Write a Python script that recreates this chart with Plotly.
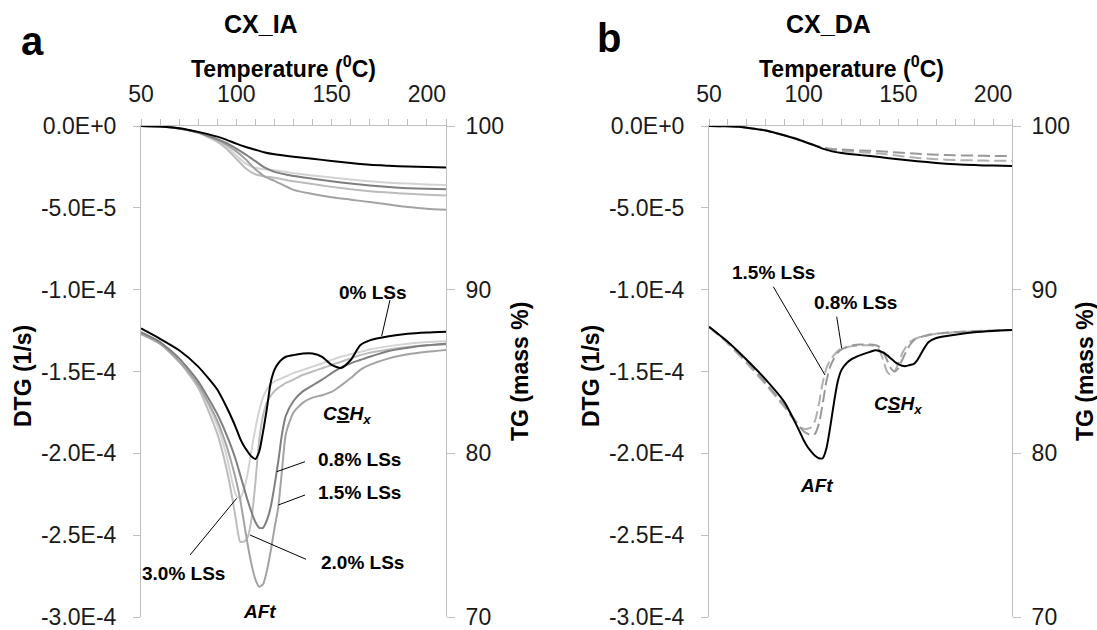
import plotly.graph_objects as go

# ---------------- data ----------------
DTG_UNIT = 1e-4  # DTG values below are given in units of 1e-4 1/s

# Panel a (CX_IA) DTG
T_a = [50, 60, 70, 80, 90, 95, 98, 100, 102, 104, 106, 108, 110, 112, 114, 116, 118, 120,
       122, 124, 126, 130, 135, 140, 145, 150, 155, 160, 165, 170, 180, 190, 200, 210]
dtg_a_00 = [-1.237, -1.30, -1.37, -1.47, -1.61, -1.72, -1.795, -1.85, -1.91, -1.955, -1.99, -2.02, -2.035, -1.99,
            -1.87, -1.73, -1.57, -1.49, -1.45, -1.425, -1.41, -1.40, -1.39, -1.39, -1.41, -1.46, -1.478, -1.43,
            -1.34, -1.31, -1.285, -1.27, -1.262, -1.257]
dtg_a_08 = [-1.26, -1.32, -1.42, -1.56, -1.76, -1.89, -1.98, -2.05, -2.13, -2.21, -2.29, -2.36, -2.42, -2.455,
            -2.455, -2.41, -2.33, -2.20, -2.05, -1.88, -1.77, -1.68, -1.62, -1.585, -1.55, -1.51, -1.475, -1.45,
            -1.43, -1.41, -1.375, -1.355, -1.34, -1.33]
dtg_a_15 = [-1.27, -1.33, -1.44, -1.58, -1.80, -1.96, -2.08, -2.17, -2.28, -2.42, -2.56, -2.68, -2.77, -2.815,
            -2.80, -2.72, -2.60, -2.46, -2.33, -2.10, -1.88, -1.75, -1.69, -1.66, -1.645, -1.625, -1.585, -1.54,
            -1.49, -1.46, -1.42, -1.395, -1.38, -1.369]
dtg_a_20 = [-1.27, -1.33, -1.44, -1.60, -1.88, -2.10, -2.28, -2.42, -2.54, -2.54, -2.51, -2.40, -2.18, -1.92,
            -1.77, -1.69, -1.65, -1.62, -1.60, -1.585, -1.57, -1.55, -1.52, -1.50, -1.48, -1.46, -1.44, -1.42,
            -1.40, -1.385, -1.365, -1.35, -1.34, -1.335]
dtg_a_30 = [-1.27, -1.33, -1.43, -1.58, -1.83, -2.02, -2.18, -2.26, -2.275, -2.22, -2.12, -1.98, -1.85, -1.74,
            -1.66, -1.61, -1.58, -1.56, -1.55, -1.54, -1.53, -1.51, -1.49, -1.47, -1.45, -1.43, -1.41, -1.395,
            -1.38, -1.365, -1.345, -1.33, -1.32, -1.315]

# TG (mass %) temperature grid (both panels)
T_tg = [50, 60, 70, 80, 90, 95, 100, 105, 110, 115, 120, 130, 140, 150, 160, 170, 180, 190, 200, 210]
tg_a_00 = [100, 99.97, 99.86, 99.64, 99.35, 99.15, 98.92, 98.72, 98.55, 98.38, 98.27, 98.12, 98.0, 97.86,
           97.74, 97.63, 97.57, 97.52, 97.49, 97.46]
tg_a_08 = [100, 99.97, 99.85, 99.6, 99.2, 98.95, 98.62, 98.25, 97.85, 97.45, 97.2, 96.95, 96.78, 96.62,
           96.48, 96.36, 96.27, 96.2, 96.16, 96.13]
tg_a_15 = [100, 99.97, 99.85, 99.6, 99.15, 98.85, 98.45, 97.95, 97.35, 96.9, 96.65, 96.1, 95.85, 95.65,
           95.5, 95.35, 95.2, 95.05, 94.95, 94.88]
tg_a_20 = [100, 99.97, 99.84, 99.58, 99.05, 98.6, 98.0, 97.4, 97.05, 96.92, 96.84, 96.62, 96.45, 96.28,
           96.14, 96.02, 95.93, 95.86, 95.8, 95.76]
tg_a_30 = [100, 99.97, 99.85, 99.6, 99.12, 98.75, 98.2, 97.7, 97.45, 97.35, 97.3, 97.12, 96.98, 96.85,
           96.73, 96.62, 96.54, 96.48, 96.43, 96.40]

# Panel b (CX_DA) DTG
T_b = [50, 60, 70, 80, 90, 95, 98, 100, 102, 104, 106, 108, 110, 112, 114, 116, 118, 120, 123, 126, 130,
       135, 138, 140, 142, 144, 146, 148, 150, 152, 154, 156, 158, 160, 163, 166, 170, 180, 190, 200, 210]
dtg_b_00 = [-1.227, -1.32, -1.43, -1.55, -1.69, -1.80, -1.87, -1.92, -1.96, -1.99, -2.015, -2.03, -2.03,
            -1.97, -1.84, -1.69, -1.56, -1.49, -1.445, -1.42, -1.40, -1.38, -1.37, -1.375, -1.385, -1.40,
            -1.42, -1.44, -1.455, -1.465, -1.467, -1.46, -1.455, -1.43, -1.37, -1.32, -1.295, -1.275,
            -1.26, -1.252, -1.247]
dtg_b_08 = [-1.227, -1.32, -1.44, -1.57, -1.71, -1.79, -1.84, -1.865, -1.88, -1.89, -1.88, -1.82, -1.70,
            -1.56, -1.47, -1.42, -1.385, -1.365, -1.35, -1.34, -1.335, -1.335, -1.34, -1.35, -1.38, -1.43,
            -1.48, -1.50, -1.48, -1.43, -1.38, -1.34, -1.31, -1.295, -1.285, -1.275, -1.268, -1.258,
            -1.253, -1.249, -1.247]
dtg_b_15 = [-1.227, -1.33, -1.45, -1.58, -1.72, -1.80, -1.84, -1.85, -1.85, -1.84, -1.80, -1.70, -1.57,
            -1.48, -1.43, -1.40, -1.375, -1.36, -1.35, -1.345, -1.34, -1.34, -1.345, -1.37, -1.43, -1.50,
            -1.52, -1.50, -1.45, -1.39, -1.35, -1.32, -1.305, -1.295, -1.285, -1.278, -1.27, -1.26,
            -1.255, -1.25, -1.247]
tg_b_00 = [100, 99.98, 99.9, 99.72, 99.42, 99.25, 99.05, 98.85, 98.62, 98.45, 98.35, 98.22, 98.1, 97.97,
           97.85, 97.74, 97.66, 97.61, 97.58, 97.55]
tg_b_08 = [100, 99.98, 99.9, 99.72, 99.43, 99.27, 99.07, 98.86, 98.68, 98.6, 98.56, 98.51, 98.46, 98.38,
           98.3, 98.25, 98.21, 98.19, 98.17, 98.16]
tg_b_15 = [100, 99.98, 99.9, 99.72, 99.43, 99.26, 99.05, 98.85, 98.66, 98.54, 98.47, 98.4, 98.32, 98.18,
           98.05, 97.97, 97.92, 97.9, 97.88, 97.87]

# axes ticks
x_ticks = [50, 100, 150, 200]
x_minor = list(range(50, 211, 10))
dtg_ticks = [0, -5e-5, -1e-4, -1.5e-4, -2e-4, -2.5e-4, -3e-4]
dtg_tick_text = ["0.0E+0", "-5.0E-5", "-1.0E-4", "-1.5E-4", "-2.0E-4", "-2.5E-4", "-3.0E-4"]
tg_ticks = [70, 80, 90, 100]

# ---------------- figure ----------------
W, H = 1097, 630
FONT = "Liberation Sans, Arial, sans-serif"
AX = "#bfbfbf"


def px(x):
    return x / W


def py(y):
    return 1 - y / H


YDOM = [py(617), py(126)]

fig = go.Figure()


def scale(v):
    return [a * DTG_UNIT for a in v]


# panel a
series_a = [
    ("3.0% LSs", dtg_a_30, tg_a_30, "#d3d3d3"),
    ("2.0% LSs", dtg_a_20, tg_a_20, "#bcbcbc"),
    ("1.5% LSs", dtg_a_15, tg_a_15, "#a3a3a3"),
    ("0.8% LSs", dtg_a_08, tg_a_08, "#7f7f7f"),
    ("0% LSs", dtg_a_00, tg_a_00, "#000000"),
]
for name, d, t, c in series_a:
    fig.add_trace(go.Scatter(x=T_a, y=scale(d), mode="lines", name=name, xaxis="x", yaxis="y",
                             line=dict(color=c, width=2, shape="spline", smoothing=0.6), showlegend=False))
    fig.add_trace(go.Scatter(x=T_tg, y=t, mode="lines", name=name + " TG", xaxis="x", yaxis="y2",
                             line=dict(color=c, width=2, shape="spline", smoothing=0.6), showlegend=False))

# panel b
series_b = [
    ("1.5% LSs", dtg_b_15, tg_b_15, "#b0b0b0", "12px,5px"),
    ("0.8% LSs", dtg_b_08, tg_b_08, "#999999", "12px,5px"),
    ("0% LSs", dtg_b_00, tg_b_00, "#000000", "solid"),
]
for name, d, t, c, dash in series_b:
    fig.add_trace(go.Scatter(x=T_b, y=scale(d), mode="lines", name=name, xaxis="x2", yaxis="y3",
                             line=dict(color=c, width=2, dash=dash, shape="spline", smoothing=0.6),
                             showlegend=False))
    fig.add_trace(go.Scatter(x=T_tg, y=t, mode="lines", name=name + " TG", xaxis="x2", yaxis="y4",
                             line=dict(color=c, width=2, dash=dash, shape="spline", smoothing=0.6),
                             showlegend=False))

tickfont = dict(family=FONT, size=23, color="#1a1a1a")
common = dict(showline=True, linecolor=AX, linewidth=1, showgrid=False, zeroline=False, automargin=False,
              ticks="outside", tickcolor=AX, tickwidth=1, tickfont=tickfont, ticklabeloverflow="allow")


def xaxis_cfg(dom, anchor):
    return dict(domain=dom, anchor=anchor, side="top", range=[50, 210], tickmode="array",
                tickvals=x_ticks, ticklen=6, ticklabelstandoff=8,
                minor=dict(tickmode="array", tickvals=x_minor, ticks="outside", ticklen=6,
                           tickcolor=AX, tickwidth=1), **common)


def ydtg_cfg(anchor):
    return dict(domain=YDOM, anchor=anchor, range=[-3e-4, 0], tickmode="array", tickvals=dtg_ticks,
                ticktext=dtg_tick_text, ticklen=7, ticklabelstandoff=12, **common)


def ytg_cfg(anchor, over):
    return dict(domain=YDOM, anchor=anchor, overlaying=over, side="right", range=[70, 100],
                tickmode="array", tickvals=tg_ticks, ticklen=8, ticklabelstandoff=6, **common)


fig.update_layout(
    width=W, height=H, margin=dict(l=0, r=0, t=0, b=0), paper_bgcolor="white", plot_bgcolor="white",
    xaxis=xaxis_cfg([px(141), px(446)], "y"),
    yaxis=ydtg_cfg("x"),
    yaxis2=ytg_cfg("x", "y"),
    xaxis2=xaxis_cfg([px(709), px(1012)], "y3"),
    yaxis3=ydtg_cfg("x2"),
    yaxis4=ytg_cfg("x2", "y3"),
    font=dict(family=FONT, color="#000000"),
)

anns = []


def txt(x, y, s, size, angle=0, xanchor="center", color="#000000"):
    anns.append(dict(x=px(x), y=py(y), xref="paper", yref="paper", text=s, showarrow=False,
                     textangle=angle, xanchor=xanchor, yanchor="middle",
                     font=dict(family=FONT, size=size, color=color)))


# panel letters and titles
txt(32, 41, "<b>a</b>", 40)
txt(609, 38, "<b>b</b>", 40)
txt(261, 24, "<b>CX_IA</b>", 25)
txt(828, 24, "<b>CX_DA</b>", 25)
for cx in (283, 851):
    txt(cx, 67, "<b>Temperature (<sup>0</sup>C)</b>", 23)
for cx in (23, 591):
    txt(cx, 376, "<b>DTG (1/s)</b>", 23, angle=-90)
for cx in (520, 1085):
    txt(cx, 372, "<b>TG (mass %)</b>", 23, angle=-90)

# curve labels panel a
LS = 19
txt(373, 292, "<b>0% LSs</b>", LS)
txt(316, 459, "<b>0.8% LSs</b>", LS, xanchor="left")
txt(316, 492, "<b>1.5% LSs</b>", LS, xanchor="left")
txt(319, 562, "<b>2.0% LSs</b>", LS, xanchor="left")
txt(140, 573, "<b>3.0% LSs</b>", LS, xanchor="left")
txt(259, 611, "<b><i>AFt</i></b>", LS)
txt(347, 415, "<b><i>C<u>S</u>H<sub>x</sub></i></b>", LS)
# curve labels panel b
txt(730, 272, "<b>1.5% LSs</b>", LS, xanchor="left")
txt(812, 302, "<b>0.8% LSs</b>", LS, xanchor="left")
txt(816, 485, "<b><i>AFt</i></b>", LS)
txt(898, 405, "<b><i>C<u>S</u>H<sub>x</sub></i></b>", LS)

fig.update_layout(annotations=anns)

# pointer lines (pixel positions of the leader lines)
leaders = [
    (390, 300, 381.7, 336), (305, 461.7, 276.7, 471.7), (305, 495, 278.3, 505),
    (306, 559.3, 250, 535), (190, 555, 236.7, 498.3),
    (773.3, 286.7, 825, 375), (836.7, 316.7, 841.7, 348.3),
]
for x0, y0, x1, y1 in leaders:
    fig.add_shape(type="line", xref="paper", yref="paper", x0=px(x0), y0=py(y0), x1=px(x1), y1=py(y1),
                  line=dict(color="#000000", width=1))

fig.write_html("out.html")
